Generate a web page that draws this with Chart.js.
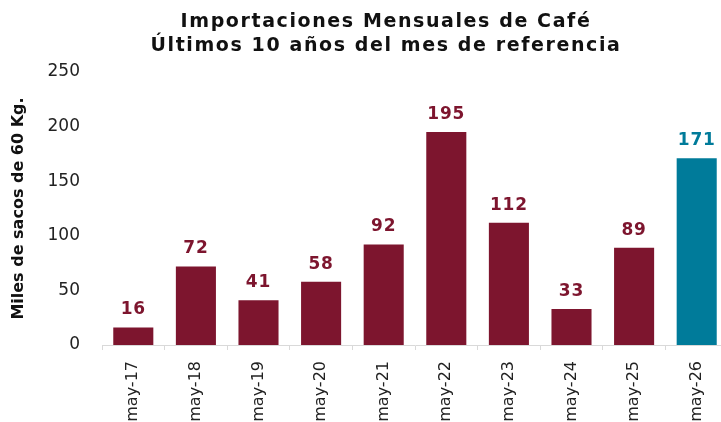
<!DOCTYPE html>
<html>
<head>
<meta charset="utf-8">
<script src="https://cdn.jsdelivr.net/npm/chart.js@4"></script>
<style>
  html, body { margin: 0; padding: 0; background: #fff; overflow: hidden; }
  #wrap { width: 728px; height: 422px; position: relative; }
</style>
</head>
<body>
<div id="wrap"><canvas id="imports"></canvas></div>
<script>
// data
const months = ['may-17', 'may-18', 'may-19', 'may-20', 'may-21', 'may-22', 'may-23', 'may-24', 'may-25', 'may-26'];
const sacks = [16, 72, 41, 58, 92, 195, 112, 33, 89, 171];
const titleLines = ['Importaciones Mensuales de Café', 'Últimos 10 años del mes de referencia'];
const yTitle = 'Miles de sacos de 60 Kg.';

const MAROON = '#7d152e';
const TEAL = '#007b9a';
const barColors = sacks.map((v, i) => i === sacks.length - 1 ? TEAL : MAROON);

const FONT = "'DejaVu Sans', sans-serif";

// title drawn by hand so it can sit where the original one is
const titlePlugin = {
    id: 'bigTitle',
    afterDraw(chart) {
        const ctx = chart.ctx;
        ctx.save();
        ctx.fillStyle = '#111';
        ctx.font = 'bold 19px ' + FONT;
        ctx.letterSpacing = '1.6px';
        ctx.textAlign = 'center';
        ctx.textBaseline = 'alphabetic';
        ctx.fillText(titleLines[0], 386, 27);
        ctx.fillText(titleLines[1], 386, 51);
        ctx.restore();
    }
};

// values above the bars
const valueLabels = {
    id: 'valueLabels',
    afterDatasetsDraw(chart) {
        const ctx = chart.ctx;
        const meta = chart.getDatasetMeta(0);
        ctx.save();
        ctx.font = 'bold 17px ' + FONT;
        ctx.letterSpacing = '0.8px';
        ctx.textAlign = 'center';
        ctx.textBaseline = 'bottom';
        meta.data.forEach((bar, i) => {
            ctx.fillStyle = barColors[i];
            ctx.fillText(sacks[i], bar.x, bar.y - 9);
        });
        ctx.restore();
    }
};

new Chart(document.getElementById('imports'), {
    type: 'bar',
    data: {
        labels: months,
        datasets: [{
            data: sacks,
            backgroundColor: barColors,
            barPercentage: 0.64,
            categoryPercentage: 1
        }]
    },
    options: {
        responsive: true,
        maintainAspectRatio: false,
        animation: false,
        layout: { padding: { top: 72, right: 0, left: 0, bottom: 0 } },
        plugins: {
            legend: { display: false },
            tooltip: { enabled: false }
        },
        scales: {
            x: {
                grid: { drawOnChartArea: false, drawTicks: true, tickLength: 5, color: '#d9d9d9' },
                border: { display: true, color: '#d9d9d9' },
                ticks: {
                    color: '#222',
                    font: { family: FONT, size: 16 },
                    minRotation: 90,
                    maxRotation: 90,
                    padding: 11
                },
                afterFit(scale) { scale.height = 77; }
            },
            y: {
                min: 0,
                max: 250,
                grid: { display: false, drawTicks: false },
                border: { display: false },
                ticks: {
                    stepSize: 50,
                    color: '#222',
                    font: { family: FONT, size: 17 },
                    padding: 22
                },
                title: {
                    display: true,
                    text: yTitle,
                    color: '#111',
                    font: { family: FONT, size: 16, weight: 'bold' },
                    padding: { top: 9, bottom: 0 }
                },
                afterFit(scale) { scale.width = 102; }
            }
        }
    },
    plugins: [titlePlugin, valueLabels]
});
</script>
</body>
</html>
